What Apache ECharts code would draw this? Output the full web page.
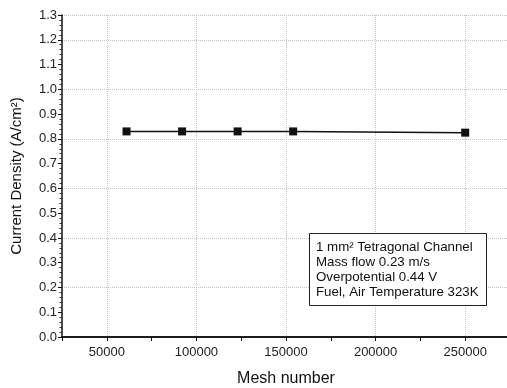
<!DOCTYPE html>
<html>
<head>
<meta charset="utf-8">
<script src="https://cdn.jsdelivr.net/npm/echarts@6/dist/echarts.min.js"></script>
<style>
  html, body { margin: 0; padding: 0; background: #fff; }
  #chart { width: 507px; height: 388px; }
</style>
</head>
<body>
<div id="chart"></div>
<script>
// mesh study values
var meshNumbers = [61000, 92000, 123000, 154000, 250000];
var currentDensity = [0.83, 0.83, 0.83, 0.83, 0.825];
var xTickLabels = [50000, 100000, 150000, 200000, 250000];
var noteLines = [
  '1 mm² Tetragonal Channel',
  'Mass flow 0.23 m/s',
  'Overpotential 0.44 V',
  'Fuel, Air Temperature 323K'
];

var font = 'Liberation Sans, Arial, sans-serif';
var gridColor = '#c4c4c4';
var myChart = echarts.init(document.getElementById('chart'));

var option = {
  animation: false,
  backgroundColor: '#fff',
  grid: { left: 62, right: -3, top: 15, bottom: 51, outerBoundsMode: 'none', containLabel: false },
  xAxis: [
    {
      type: 'value',
      min: 25000,
      max: 275000,
      interval: 25000,
      name: 'Mesh number',
      nameLocation: 'middle',
      nameGap: 34,
      nameTextStyle: { fontFamily: font, fontSize: 16, color: '#111' },
      axisLine: { show: true, onZero: false, lineStyle: { color: '#111', width: 1.5 } },
      axisTick: { show: true, length: 4, lineStyle: { color: '#111' } },
      axisLabel: {
        fontFamily: font, fontSize: 13, color: '#222', margin: 9,
        customValues: xTickLabels,
        formatter: function (v) { return String(v); }
      },
      splitLine: { show: false }
    },
    {
      type: 'value',
      position: 'top',
      min: 25000,
      max: 275000,
      axisLine: { show: true, lineStyle: { color: '#111', width: 1.5 } },
      axisTick: { show: false },
      axisLabel: { show: false },
      splitLine: { show: false }
    },
    {
      // vertical dotted grid at labelled ticks
      type: 'value',
      min: 25000,
      max: 275000,
      position: 'bottom',
      axisLine: { show: false },
      axisTick: { show: false, customValues: xTickLabels },
      axisLabel: { show: false, customValues: xTickLabels },
      splitLine: { show: true, lineStyle: { color: gridColor, type: 'dotted', width: 1 } }
    }
  ],
  yAxis: [
    {
      type: 'value',
      min: 0,
      max: 1.3,
      interval: 0.1,
      name: 'Current Density (A/cm²)',
      nameLocation: 'middle',
      nameGap: 38,
      nameTextStyle: { fontFamily: font, fontSize: 15, color: '#111' },
      axisLine: { show: true, lineStyle: { color: '#111', width: 1.5 } },
      axisTick: { show: true, length: 4, lineStyle: { color: '#111' } },
      minorTick: { show: true, splitNumber: 5, length: 2.5, lineStyle: { color: '#333' } },
      axisLabel: {
        fontFamily: font, fontSize: 13, color: '#222', margin: 5,
        formatter: function (v) { return v.toFixed(1); }
      },
      splitLine: { show: false }
    },
    {
      // horizontal dotted grid every 0.2
      type: 'value',
      min: 0,
      max: 1.3,
      interval: 0.2,
      position: 'left',
      axisLine: { show: false },
      axisTick: { show: false },
      axisLabel: { show: false },
      splitLine: { show: true, lineStyle: { color: gridColor, type: 'dotted', width: 1 } }
    }
  ],
  series: [
    {
      type: 'line',
      data: meshNumbers.map(function (x, i) { return [x, currentDensity[i]]; }),
      symbol: 'rect',
      symbolSize: 8,
      lineStyle: { color: '#111', width: 1.5 },
      itemStyle: { color: '#111' },
      z: 10
    }
  ],
  graphic: [
    {
      type: 'rect',
      left: 309,
      top: 233,
      shape: { width: 177, height: 72 },
      style: { fill: '#fff', stroke: '#222', lineWidth: 1 },
      z: 100
    },
    {
      type: 'text',
      left: 316,
      top: 240,
      style: {
        text: noteLines.join('\n'),
        fontFamily: font,
        fontSize: 13.3,
        lineHeight: 15,
        fill: '#111'
      },
      z: 101
    }
  ]
};

myChart.setOption(option);
</script>
</body>
</html>
